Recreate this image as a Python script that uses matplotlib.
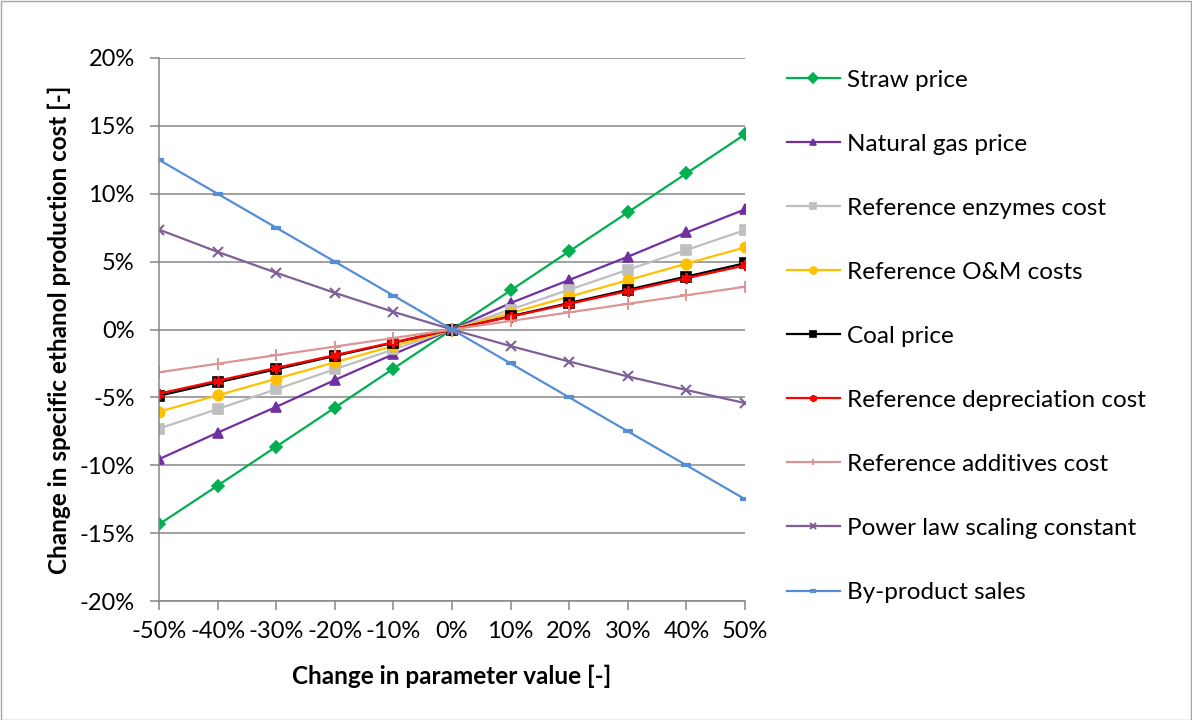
import matplotlib
matplotlib.use("Agg")
import matplotlib.pyplot as plt
from matplotlib.patches import Rectangle
from matplotlib.ticker import FuncFormatter, MultipleLocator

plt.rcParams['font.family'] = ['Lato', 'DejaVu Sans']

x = [-50, -40, -30, -20, -10, 0, 10, 20, 30, 40, 50]

straw = [-14.35, -11.5, -8.63, -5.76, -2.88, 0, 2.88, 5.76, 8.63, 11.5, 14.38]
natgas = [-9.55, -7.6, -5.7, -3.72, -1.82, 0, 1.95, 3.65, 5.36, 7.15, 8.85]
enzymes = [-7.3, -5.86, -4.4, -2.93, -1.47, 0, 1.47, 2.93, 4.4, 5.86, 7.32]
om = [-6.05, -4.85, -3.63, -2.42, -1.21, 0, 1.21, 2.42, 3.63, 4.85, 6.05]
coal = [-4.88, -3.9, -2.93, -1.95, -0.98, 0, 0.98, 1.95, 2.93, 3.9, 4.88]
deprec = [-4.72, -3.78, -2.83, -1.89, -0.94, 0, 0.94, 1.89, 2.83, 3.78, 4.72]
additives = [-3.15, -2.52, -1.89, -1.26, -0.63, 0, 0.63, 1.26, 1.89, 2.52, 3.15]
powerlaw = [7.36, 5.72, 4.18, 2.7, 1.3, 0, -1.22, -2.36, -3.46, -4.46, -5.42]
byproduct = [12.5, 10.0, 7.5, 5.0, 2.5, 0, -2.5, -5.0, -7.5, -10.0, -12.5]

labels = ["Straw price", "Natural gas price", "Reference enzymes cost",
          "Reference O&M costs", "Coal price", "Reference depreciation cost",
          "Reference additives cost", "Power law scaling constant", "By-product sales"]

series = [straw, natgas, enzymes, om, coal, deprec, additives, powerlaw, byproduct]
colors = ["#00B050", "#7030A0", "#BFBFBF", "#FFC000", "#000000", "#FF0000",
          "#D99694", "#7F6096", "#558ED5"]
markers = ["D", "^", "s", "o", "s", (6, 2, 0), "+", "x", "_"]
msizes = [6, 7.5, 7, 7.5, 6.5, 8, 8, 7, 7]
medges = [1.2, 1.2, 1.2, 1.2, 1.2, 1.6, 1.4, 1.5, 3]

fig = plt.figure(figsize=(11.92, 7.2), dpi=100)
fig.patches.append(Rectangle((0.5/1192, 0.5/720), 1 - 1.5/1192, 1 - 1.5/720,
                             transform=fig.transFigure, fill=False,
                             edgecolor="#A6A6A6", linewidth=1))

ax = fig.add_axes([159/1192, 1 - 601/720, (745 - 159)/1192, (601 - 58)/720])

for ys, lab, c, m, ms, me in zip(series, labels, colors, markers, msizes, medges):
    ax.plot(x, ys, color=c, marker=m, markersize=ms, linewidth=1.6,
            markeredgecolor=c, markerfacecolor=c, markeredgewidth=me, label=lab)

ax.set_xlim(-50, 50)
ax.set_ylim(-20, 20)
ax.xaxis.set_major_locator(MultipleLocator(10))
ax.yaxis.set_major_locator(MultipleLocator(5))
fmt = FuncFormatter(lambda v, p: f"{v:.0f}%")
ax.xaxis.set_major_formatter(fmt)
ax.yaxis.set_major_formatter(fmt)
ax.grid(axis='y', color="#868686", linewidth=1.1)
ax.set_axisbelow(True)
for s in ['top', 'right']:
    ax.spines[s].set_visible(False)
for s in ['left', 'bottom']:
    ax.spines[s].set_color("#868686")
    ax.spines[s].set_linewidth(1.1)
ax.tick_params(axis='both', direction='out', length=6.5, width=1.1, color="#868686",
               labelsize=17, labelcolor="black")
ax.tick_params(axis='x', pad=8)
ax.tick_params(axis='y', pad=11)

fig.text(452/1192, 1 - 676/720, "Change in parameter value [-]", fontsize=17.5,
         fontweight='bold', ha='center', va='center')
fig.text(59/1192, 1 - 329.5/720, "Change in specific ethanol production cost [-]",
         fontsize=17.5, fontweight='bold', ha='center', va='center', rotation=90)

leg = fig.legend(loc='upper left', bbox_to_anchor=(777/1192, 1 - 60/720),
                 frameon=False, fontsize=17.5, handlelength=2.18, handletextpad=0.3,
                 labelspacing=1.77, borderaxespad=0)
for h in leg.legend_handles:
    h.set_markersize(5)

fig.savefig("out.png", dpi=100)
